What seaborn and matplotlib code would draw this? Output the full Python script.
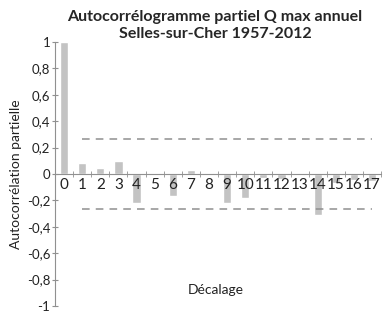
import matplotlib
matplotlib.use('Agg')
import matplotlib.pyplot as plt
import seaborn as sns
import pandas as pd
from matplotlib.ticker import FixedLocator, FuncFormatter

lags = list(range(18))
pacf = [1.0, 0.086, 0.043, 0.096, -0.217, 0.01, -0.167, 0.03, 0.005, -0.222,
        -0.184, -0.03, -0.035, -0.01, -0.31, -0.07, -0.045, -0.05]
conf = 0.267

sns.set_style('white')
plt.rcParams['font.family'] = ['Lato', 'DejaVu Sans']

df = pd.DataFrame({'Décalage': lags, 'PACF': pacf})

fig = plt.figure(figsize=(3.86, 3.31), dpi=100)
ax = fig.add_axes([0.1425, 0.0755, 0.845, 0.7975])
sns.barplot(x='Décalage', y='PACF', data=df, color='#c3c3c3', width=0.45,
            saturation=1, ax=ax)
ax.hlines([conf, -conf], 1, 17, colors='#909090', linestyles=(0, (5, 4)), linewidth=1.1)
ax.set_axisbelow(False)

ax.set_ylim(-1, 1)
ax.set_xlim(-0.5, 17.5)
ax.set_yticks([1, 0.8, 0.6, 0.4, 0.2, 0, -0.2, -0.4, -0.6, -0.8, -1])
ax.yaxis.set_major_formatter(FuncFormatter(lambda v, p: ('%g' % round(v, 1)).replace('.', ',')))
ax.tick_params(axis='y', labelsize=9.5, direction='inout', length=5, color='#909090',
               left=True, pad=1, labelcolor='#222222')
ax.tick_params(axis='x', which='major', length=0, labelsize=11, pad=3, labelcolor='#222222')
ax.xaxis.set_minor_locator(FixedLocator([i + 0.5 for i in range(-1, 18)]))
ax.tick_params(axis='x', which='minor', direction='inout', length=5, color='#909090', bottom=True)

for s in ['top', 'right']:
    ax.spines[s].set_visible(False)
ax.spines['bottom'].set_position(('data', 0))
ax.spines['bottom'].set_color('#909090')
ax.spines['left'].set_color('#909090')

ax.set_xlabel('')
ax.set_ylabel('Autocorrélation partielle', fontsize=10, color='#222222', labelpad=3)
fig.text(0.56, 0.124, 'Décalage', ha='center', va='center', fontsize=10, color='#222222')
fig.text(0.557, 0.97, 'Autocorrélogramme partiel Q max annuel\nSelles-sur-Cher 1957-2012',
         ha='center', va='top', fontsize=11.5, fontweight='bold', linespacing=1.25)

fig.savefig('out.png', dpi=100)
